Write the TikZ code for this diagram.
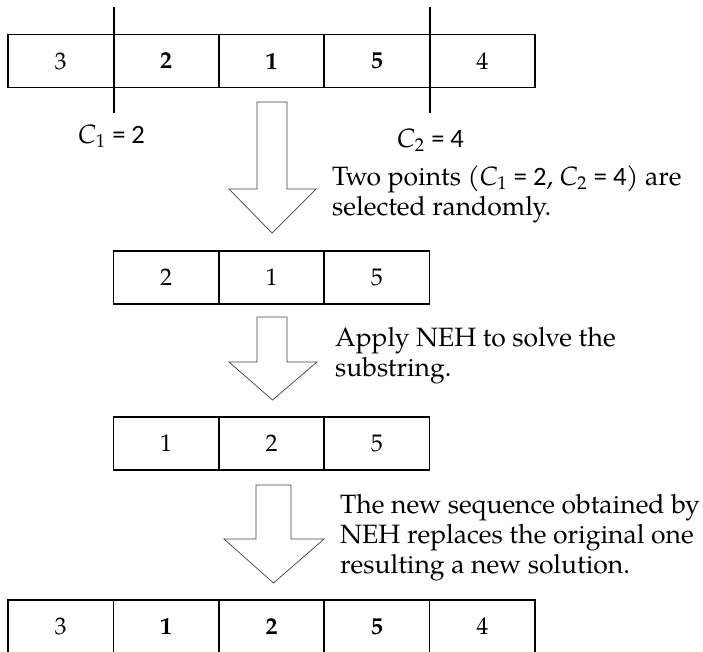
\documentclass[tikz,border=0pt]{standalone}
\usepackage{fontspec}
\setmainfont{texgyrepagella}[Extension=.otf, UprightFont=*-regular, BoldFont=*-bold, ItalicFont=*-italic, BoldItalicFont=*-bolditalic]
\newfontfamily\calfont{Carlito}
\begin{document}
\begin{tikzpicture}[x=1pt,y=-1pt,
  cell/.style={draw, line width=1.6pt, minimum width=105.4pt, minimum height=53pt, inner sep=0pt, outer sep=0pt, font=\fontsize{24}{24}\selectfont},
  bcell/.style={cell, font=\fontsize{24}{24}\selectfont\bfseries},
  marker/.style={line width=1.6pt},
  blockarr/.style={draw=black!75, line width=0.7pt, line join=miter},
  note/.style={anchor=base west, align=left, inner sep=0pt, font=\fontsize{26.5}{30}\selectfont},
  clabel/.style={anchor=base west, inner sep=0pt, font=\fontsize{26.5}{30}\selectfont}]
\useasboundingbox (0,0) rectangle (703,651);
\clip (0,0) rectangle (703,651);
% top row
\node[cell]  (a1) at (60.7,61) {3};
\node[bcell] (a2) at (166.1,61) {2};
\node[bcell] (a3) at (271.5,61) {1};
\node[bcell] (a4) at (376.9,61) {5};
\node[cell]  (a5) at (482.3,61) {4};
% cut markers
\coordinate (m1t) at (114,7);
\coordinate (m1b) at (114,113);
\coordinate (m2t) at (430,7);
\coordinate (m2b) at (430,113);
\draw[marker] (m1t) -- (m1b);
\draw[marker] (m2t) -- (m2b);
\node[clabel] (c1) at (78,143) {\textit{C}\textsubscript{1} {\calfont = 2}};
\node[clabel] (c2) at (397,147) {\textit{C}\textsubscript{2} {\calfont = 4}};
% arrow 1
\draw[blockarr] (257,102) -- (287,102) -- (287,189) -- (316,189) -- (272,233) -- (229,189) -- (257,189) -- cycle;
\node[note] (t1) at (332,215) {Two points (\textit{C}\textsubscript{1} {\calfont = 2}, \textit{C}\textsubscript{2} {\calfont = 4}) are\\selected randomly.};
% middle row
\node[cell] (b1) at (166.1,277.5) {2};
\node[cell] (b2) at (271.5,277.5) {1};
\node[cell] (b3) at (376.9,277.5) {5};
% arrow 2
\draw[blockarr] (257,317) -- (287,317) -- (287,362) -- (317,362) -- (272.5,400) -- (229,362) -- (257,362) -- cycle;
\node[note] (t2) at (335,376) {Apply NEH to solve the\\substring.};
% third row
\node[cell] (d1) at (166.1,443.5) {1};
\node[cell] (d2) at (271.5,443.5) {2};
\node[cell] (d3) at (376.9,443.5) {5};
% arrow 3
\draw[blockarr] (256,485) -- (291,485) -- (291,539) -- (324,539) -- (273.5,583) -- (224,539) -- (256,539) -- cycle;
\node[note] (t3) at (340,573) {The new sequence obtained by\\NEH replaces the original one\\resulting a new solution.};
% bottom row
\node[cell]  (e1) at (60.7,626.5) {3};
\node[bcell] (e2) at (166.1,626.5) {1};
\node[bcell] (e3) at (271.5,626.5) {2};
\node[bcell] (e4) at (376.9,626.5) {5};
\node[cell]  (e5) at (482.3,626.5) {4};
\end{tikzpicture}
\end{document}
